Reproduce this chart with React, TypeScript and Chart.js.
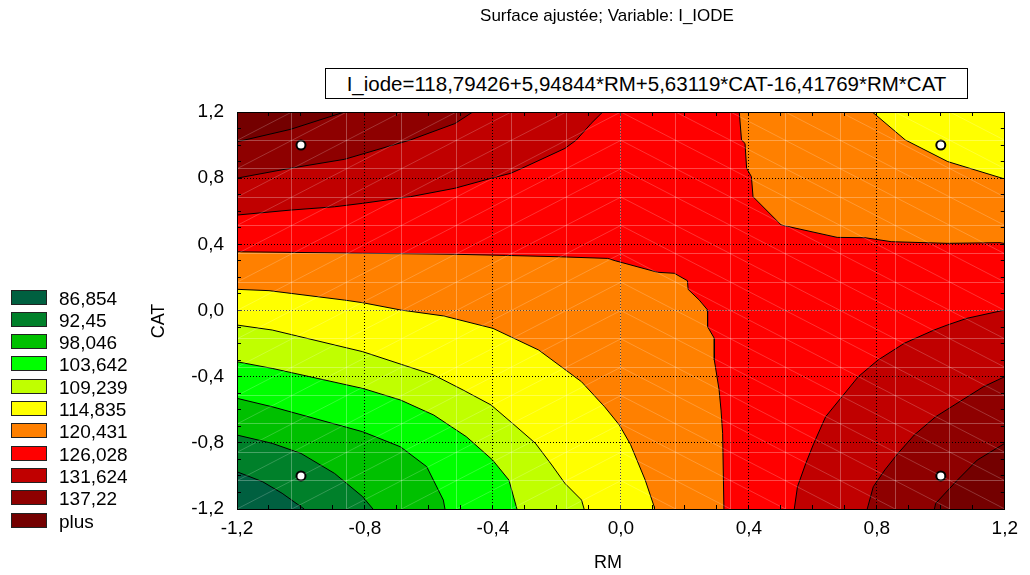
import React, { useEffect, useRef } from 'react';
import { Chart, registerables } from 'chart.js';

Chart.register(...registerables);

const FONT = '"Liberation Sans", Arial, Helvetica, sans-serif';

// ---- texts ----
const titleText = 'Surface ajustée; Variable: I_IODE';
const equationText = 'I_iode=118,79426+5,94844*RM+5,63119*CAT-16,41769*RM*CAT';
const xTitle = 'RM';
const yTitle = 'CAT';

// ---- axes ----
const axisMin = -1.2;
const axisMax = 1.2;
const majorTicks = [-1.2, -0.8, -0.4, 0, 0.4, 0.8, 1.2];
const tickLabels = ['-1,2', '-0,8', '-0,4', '0,0', '0,4', '0,8', '1,2'];
const meshIntervals = 14;

// ---- legend levels ----
const levelLabels = ['86,854', '92,45', '98,046', '103,642', '109,239', '114,835', '120,431', '126,028', '131,624', '137,22', 'plus'];
const levelColors = ['#006040', '#00802A', '#00C000', '#00FF00', '#C0FF00', '#FFFF00', '#FF8000', '#FF0000', '#C00000', '#8E0000', '#740000'];

// ---- design points (RM, CAT) ----
const runsRM = [-1, 1, -1, 1];
const runsCAT = [1, 1, -1, -1];

type P = [number, number];

// ---- contour lines (RM, CAT) ----
// top-left corner (values above the level)
const tl126: P[] = [[-1.2, 0.577], [-1.033, 0.607], [-0.895, 0.627], [-0.807, 0.648], [-0.658, 0.688], [-0.519, 0.739], [-0.406, 0.799], [-0.345, 0.829], [-0.309, 0.86], [-0.175, 0.98], [-0.139, 1.031], [-0.093, 1.131], [-0.057, 1.2]];
const tl132: P[] = [[-1.2, 0.8], [-1.033, 0.86], [-0.864, 0.914], [-0.658, 1.031], [-0.519, 1.13], [-0.463, 1.2]];
const tl137: P[] = [[-1.2, 1.02], [-1.033, 1.095], [-0.864, 1.2]];
// top-right corner (values below the level)
const tr120: P[] = [[0.37, 1.2], [0.377, 1.031], [0.388, 1.01], [0.393, 0.86], [0.408, 0.809], [0.413, 0.688], [0.501, 0.517], [0.676, 0.442], [0.763, 0.44], [0.845, 0.416], [1.02, 0.406], [1.185, 0.41], [1.2, 0.405]];
const tr115: P[] = [[0.786, 1.2], [0.889, 1.031], [1.022, 0.9], [1.193, 0.799], [1.2, 0.797]];
// bottom-left corner (values below the level)
const bl120: P[] = [[-1.2, 0.355], [-0.925, 0.349], [-0.807, 0.346], [-0.525, 0.34], [-0.36, 0.333], [-0.195, 0.325], [-0.041, 0.315], [-0.018, 0.301], [0.115, 0.231], [0.167, 0.225], [0.208, 0.18], [0.21, 0.128], [0.245, 0.063], [0.271, 0.003], [0.271, -0.098], [0.292, -0.168], [0.292, -0.299], [0.307, -0.481], [0.313, -0.602], [0.318, -0.743], [0.322, -1.2]];
const bl115: P[] = [[-1.2, 0.128], [-1.1, 0.12], [-0.864, 0.063], [-0.807, 0.047], [-0.688, 0.003], [-0.554, -0.033], [-0.4, -0.108], [-0.257, -0.239], [-0.123, -0.431], [-0.051, -0.582], [-0.005, -0.692], [0.03, -0.81], [0.076, -1.025], [0.104, -1.186], [0.105, -1.2]];
const bl109: P[] = [[-1.2, -0.088], [-1.09, -0.118], [-0.807, -0.249], [-0.585, -0.39], [-0.493, -0.481], [-0.406, -0.571], [-0.339, -0.682], [-0.267, -0.803], [-0.216, -0.934], [-0.175, -1.045], [-0.123, -1.146], [-0.115, -1.2]];
const bl104: P[] = [[-1.2, -0.31], [-1.09, -0.35], [-0.807, -0.471], [-0.689, -0.541], [-0.585, -0.632], [-0.483, -0.763], [-0.401, -0.904], [-0.35, -1.025], [-0.325, -1.2]];
const bl98: P[] = [[-1.2, -0.531], [-1.09, -0.582], [-0.807, -0.733], [-0.689, -0.824], [-0.607, -0.944], [-0.555, -1.146], [-0.55, -1.2]];
const bl92: P[] = [[-1.2, -0.753], [-1.09, -0.803], [-1.0, -0.864], [-0.895, -0.985], [-0.807, -1.126], [-0.775, -1.2]];
const bl87: P[] = [[-1.2, -0.975], [-1.12, -1.035], [-1.059, -1.105], [-0.99, -1.2]];
// bottom-right corner (values above the level)
const br126: P[] = [[0.542, -1.2], [0.552, -1.065], [0.578, -0.924], [0.603, -0.803], [0.64, -0.642], [0.691, -0.521], [0.742, -0.4], [0.804, -0.299], [0.886, -0.198], [0.979, -0.118], [1.02, -0.088], [1.082, -0.047], [1.2, 0.003]];
const br132: P[] = [[0.77, -1.2], [0.789, -1.065], [0.825, -0.964], [0.866, -0.864], [0.917, -0.753], [0.984, -0.642], [1.133, -0.461], [1.2, -0.4]];
const br137: P[] = [[0.98, -1.2], [0.984, -1.166], [1.052, -1.025], [1.114, -0.904], [1.2, -0.803]];

const contour = (pts: P[], color: string, fill: 'start' | 'end', order: number) => ({
  data: pts.map(([x, y]) => ({ x, y })),
  borderColor: '#000000',
  borderWidth: 1,
  backgroundColor: color,
  fill,
  pointRadius: 0,
  pointHoverRadius: 0,
  tension: 0,
  order,
});

const isMajor = (v: number) => majorTicks.some((m) => Math.abs(m - v) < 1e-6);
const isEdge = (v: number) => Math.abs(Math.abs(v) - axisMax) < 1e-6;
const labelFor = (v: number) => {
  const i = majorTicks.findIndex((m) => Math.abs(m - v) < 1e-6);
  return i >= 0 ? tickLabels[i] : '';
};

const plotBackground = {
  id: 'plotBackground',
  beforeDatasetsDraw(chart: any) {
    const { ctx, chartArea: a } = chart;
    ctx.save();
    ctx.fillStyle = levelColors[7];
    ctx.fillRect(a.left, a.top, a.right - a.left, a.bottom - a.top);
    ctx.restore();
  },
};

const meshDiagonals = {
  id: 'meshDiagonals',
  afterDatasetsDraw(chart: any) {
    const { ctx, chartArea: a } = chart;
    const xs = chart.scales.xm;
    const ys = chart.scales.ym;
    const xv = xs.ticks.map((t: any) => t.value);
    const yv = ys.ticks.map((t: any) => t.value);
    const half = (xv.length - 1) / 2;
    ctx.save();
    ctx.beginPath();
    ctx.rect(a.left, a.top, a.right - a.left, a.bottom - a.top);
    ctx.clip();
    ctx.strokeStyle = 'rgba(255,255,255,0.2)';
    ctx.lineWidth = 1;
    ctx.beginPath();
    for (let i = 0; i < xv.length - 1; i++) {
      for (let j = 0; j < yv.length - 1; j++) {
        if (i < half) {
          ctx.moveTo(xs.getPixelForValue(xv[i]), ys.getPixelForValue(yv[j]));
          ctx.lineTo(xs.getPixelForValue(xv[i + 1]), ys.getPixelForValue(yv[j + 1]));
        } else {
          ctx.moveTo(xs.getPixelForValue(xv[i]), ys.getPixelForValue(yv[j + 1]));
          ctx.lineTo(xs.getPixelForValue(xv[i + 1]), ys.getPixelForValue(yv[j]));
        }
      }
    }
    ctx.stroke();
    ctx.restore();
  },
};

const meshBuild = (s: any) => {
  const out = [];
  for (let k = 0; k <= meshIntervals; k++) out.push({ value: axisMin + ((axisMax - axisMin) * k) / meshIntervals });
  s.ticks = out;
};

function App() {
  const ref = useRef<HTMLCanvasElement | null>(null);

  useEffect(() => {
    if (!ref.current) return;
    Chart.defaults.font.family = FONT;
    const tickFont = { family: FONT, size: 19 };
    const gridColor = (ctx: any) => {
      const v = ctx.tick ? ctx.tick.value : 0;
      return isMajor(v) && !isEdge(v) ? '#000000' : 'rgba(0,0,0,0)';
    };
    const meshColor = (ctx: any) => {
      const v = ctx.tick ? ctx.tick.value : 0;
      return isEdge(v) ? 'rgba(0,0,0,0)' : 'rgba(255,255,255,0.28)';
    };
    const chart = new Chart(ref.current, {
      type: 'line',
      data: {
        datasets: [
          {
            data: runsRM.map((x, i) => ({ x, y: runsCAT[i] })),
            showLine: false,
            pointRadius: 4.5,
            pointBorderWidth: 2,
            pointBackgroundColor: '#FFFFFF',
            pointBorderColor: '#000000',
            order: 0,
          } as any,
          contour(tl126, levelColors[8], 'end', 3),
          contour(tl132, levelColors[9], 'end', 2),
          contour(tl137, levelColors[10], 'end', 1),
          contour(tr120, levelColors[6], 'end', 3),
          contour(tr115, levelColors[5], 'end', 2),
          contour(bl120, levelColors[6], 'start', 8),
          contour(bl115, levelColors[5], 'start', 7),
          contour(bl109, levelColors[4], 'start', 6),
          contour(bl104, levelColors[3], 'start', 5),
          contour(bl98, levelColors[2], 'start', 4),
          contour(bl92, levelColors[1], 'start', 3),
          contour(bl87, levelColors[0], 'start', 2),
          contour(br126, levelColors[8], 'start', 3),
          contour(br132, levelColors[9], 'start', 2),
          contour(br137, levelColors[10], 'start', 1),
        ],
      },
      options: {
        responsive: false,
        animation: false,
        devicePixelRatio: 1,
        layout: { padding: { left: 0, right: 16, top: 112, bottom: 0 } },
        plugins: { legend: { display: false }, tooltip: { enabled: false }, title: { display: false } },
        events: [],
        scales: {
          x: {
            type: 'linear',
            position: 'bottom',
            min: axisMin,
            max: axisMax,
            ticks: { stepSize: 0.1, maxTicksLimit: 100, autoSkip: false, maxRotation: 0, padding: 12, color: '#000', font: tickFont, z: 2, callback: (v: any) => labelFor(Number(v)) },
            grid: { z: 1, color: gridColor, lineWidth: 1, drawTicks: true, tickLength: -4, tickColor: '#000', tickWidth: 1 },
            border: { z: 2, display: true, color: '#000', width: 1, dash: [1, 2] },
            afterFit: (s: any) => { s.height = 66; },
          },
          y: {
            type: 'linear',
            position: 'left',
            min: axisMin,
            max: axisMax,
            ticks: { stepSize: 0.1, maxTicksLimit: 100, autoSkip: false, padding: 17, color: '#000', font: tickFont, z: 2, callback: (v: any) => labelFor(Number(v)) },
            grid: { z: 1, color: gridColor, lineWidth: 1, drawTicks: true, tickLength: -4, tickColor: '#000', tickWidth: 1 },
            border: { z: 2, display: true, color: '#000', width: 1, dash: [1, 2] },
            afterFit: (s: any) => { s.width = 237; },
          },
          xt: {
            type: 'linear',
            position: 'top',
            min: axisMin,
            max: axisMax,
            ticks: { stepSize: 0.1, maxTicksLimit: 100, autoSkip: false, display: false },
            grid: { z: 1, drawOnChartArea: false, drawTicks: true, tickLength: -4, tickColor: '#000', tickWidth: 1 },
            border: { z: 2, display: true, color: '#000', width: 1 },
            afterFit: (s: any) => { s.height = 0; },
          },
          yr: {
            type: 'linear',
            position: 'right',
            min: axisMin,
            max: axisMax,
            ticks: { stepSize: 0.1, maxTicksLimit: 100, autoSkip: false, display: false },
            grid: { z: 1, drawOnChartArea: false, drawTicks: true, tickLength: -4, tickColor: '#000', tickWidth: 1 },
            border: { z: 2, display: true, color: '#000', width: 1 },
            afterFit: (s: any) => { s.width = 0; },
          },
          xm: {
            type: 'linear',
            position: 'top',
            min: axisMin,
            max: axisMax,
            afterBuildTicks: meshBuild,
            ticks: { display: false, autoSkip: false },
            grid: { z: 1, color: meshColor, lineWidth: 1, drawTicks: false },
            border: { display: false },
            afterFit: (s: any) => { s.height = 0; },
          },
          ym: {
            type: 'linear',
            position: 'right',
            min: axisMin,
            max: axisMax,
            afterBuildTicks: meshBuild,
            ticks: { display: false, autoSkip: false },
            grid: { z: 1, color: meshColor, lineWidth: 1, drawTicks: false },
            border: { display: false },
            afterFit: (s: any) => { s.width = 0; },
          },
        },
      } as any,
      plugins: [plotBackground, meshDiagonals],
    });
    return () => chart.destroy();
  }, []);

  const text: React.CSSProperties = { position: 'absolute', fontFamily: FONT, color: '#000', whiteSpace: 'nowrap' };

  return (
    <div style={{ position: 'absolute', left: 0, top: 0, width: 1030, height: 575, background: '#fff', overflow: 'hidden' }}>
      <canvas ref={ref} width={1030} height={575} style={{ position: 'absolute', left: 0, top: 0, width: 1030, height: 575, display: 'block' }} />
      <div style={{ ...text, left: 607, top: 7, fontSize: 17, lineHeight: '17px', transform: 'translateX(-50%)' }}>{titleText}</div>
      <div
        style={{
          ...text,
          left: 325,
          top: 68,
          width: 643,
          height: 31,
          boxSizing: 'border-box',
          border: '1px solid #000',
          background: '#fff',
          display: 'flex',
          alignItems: 'center',
          justifyContent: 'center',
          fontSize: 20.5,
          lineHeight: '21px',
        }}
      >
        {equationText}
      </div>
      <div style={{ ...text, left: 608, top: 553, fontSize: 18, lineHeight: '18px', transform: 'translateX(-50%)' }}>{xTitle}</div>
      <div style={{ ...text, left: 158, top: 320.5, fontSize: 18, lineHeight: '18px', transform: 'translate(-50%, -50%) rotate(-90deg)' }}>{yTitle}</div>
      {levelLabels.map((lab, k) => {
        const top = 289.5 + 22.3 * k;
        return (
          <React.Fragment key={lab}>
            <div style={{ position: 'absolute', left: 11, top, width: 36, height: 15, boxSizing: 'border-box', border: '1px solid #222', background: levelColors[k] }} />
            <div style={{ ...text, left: 59, top: top - 1, fontSize: 19, lineHeight: '19px' }}>{lab}</div>
          </React.Fragment>
        );
      })}
    </div>
  );
}

export default App;
